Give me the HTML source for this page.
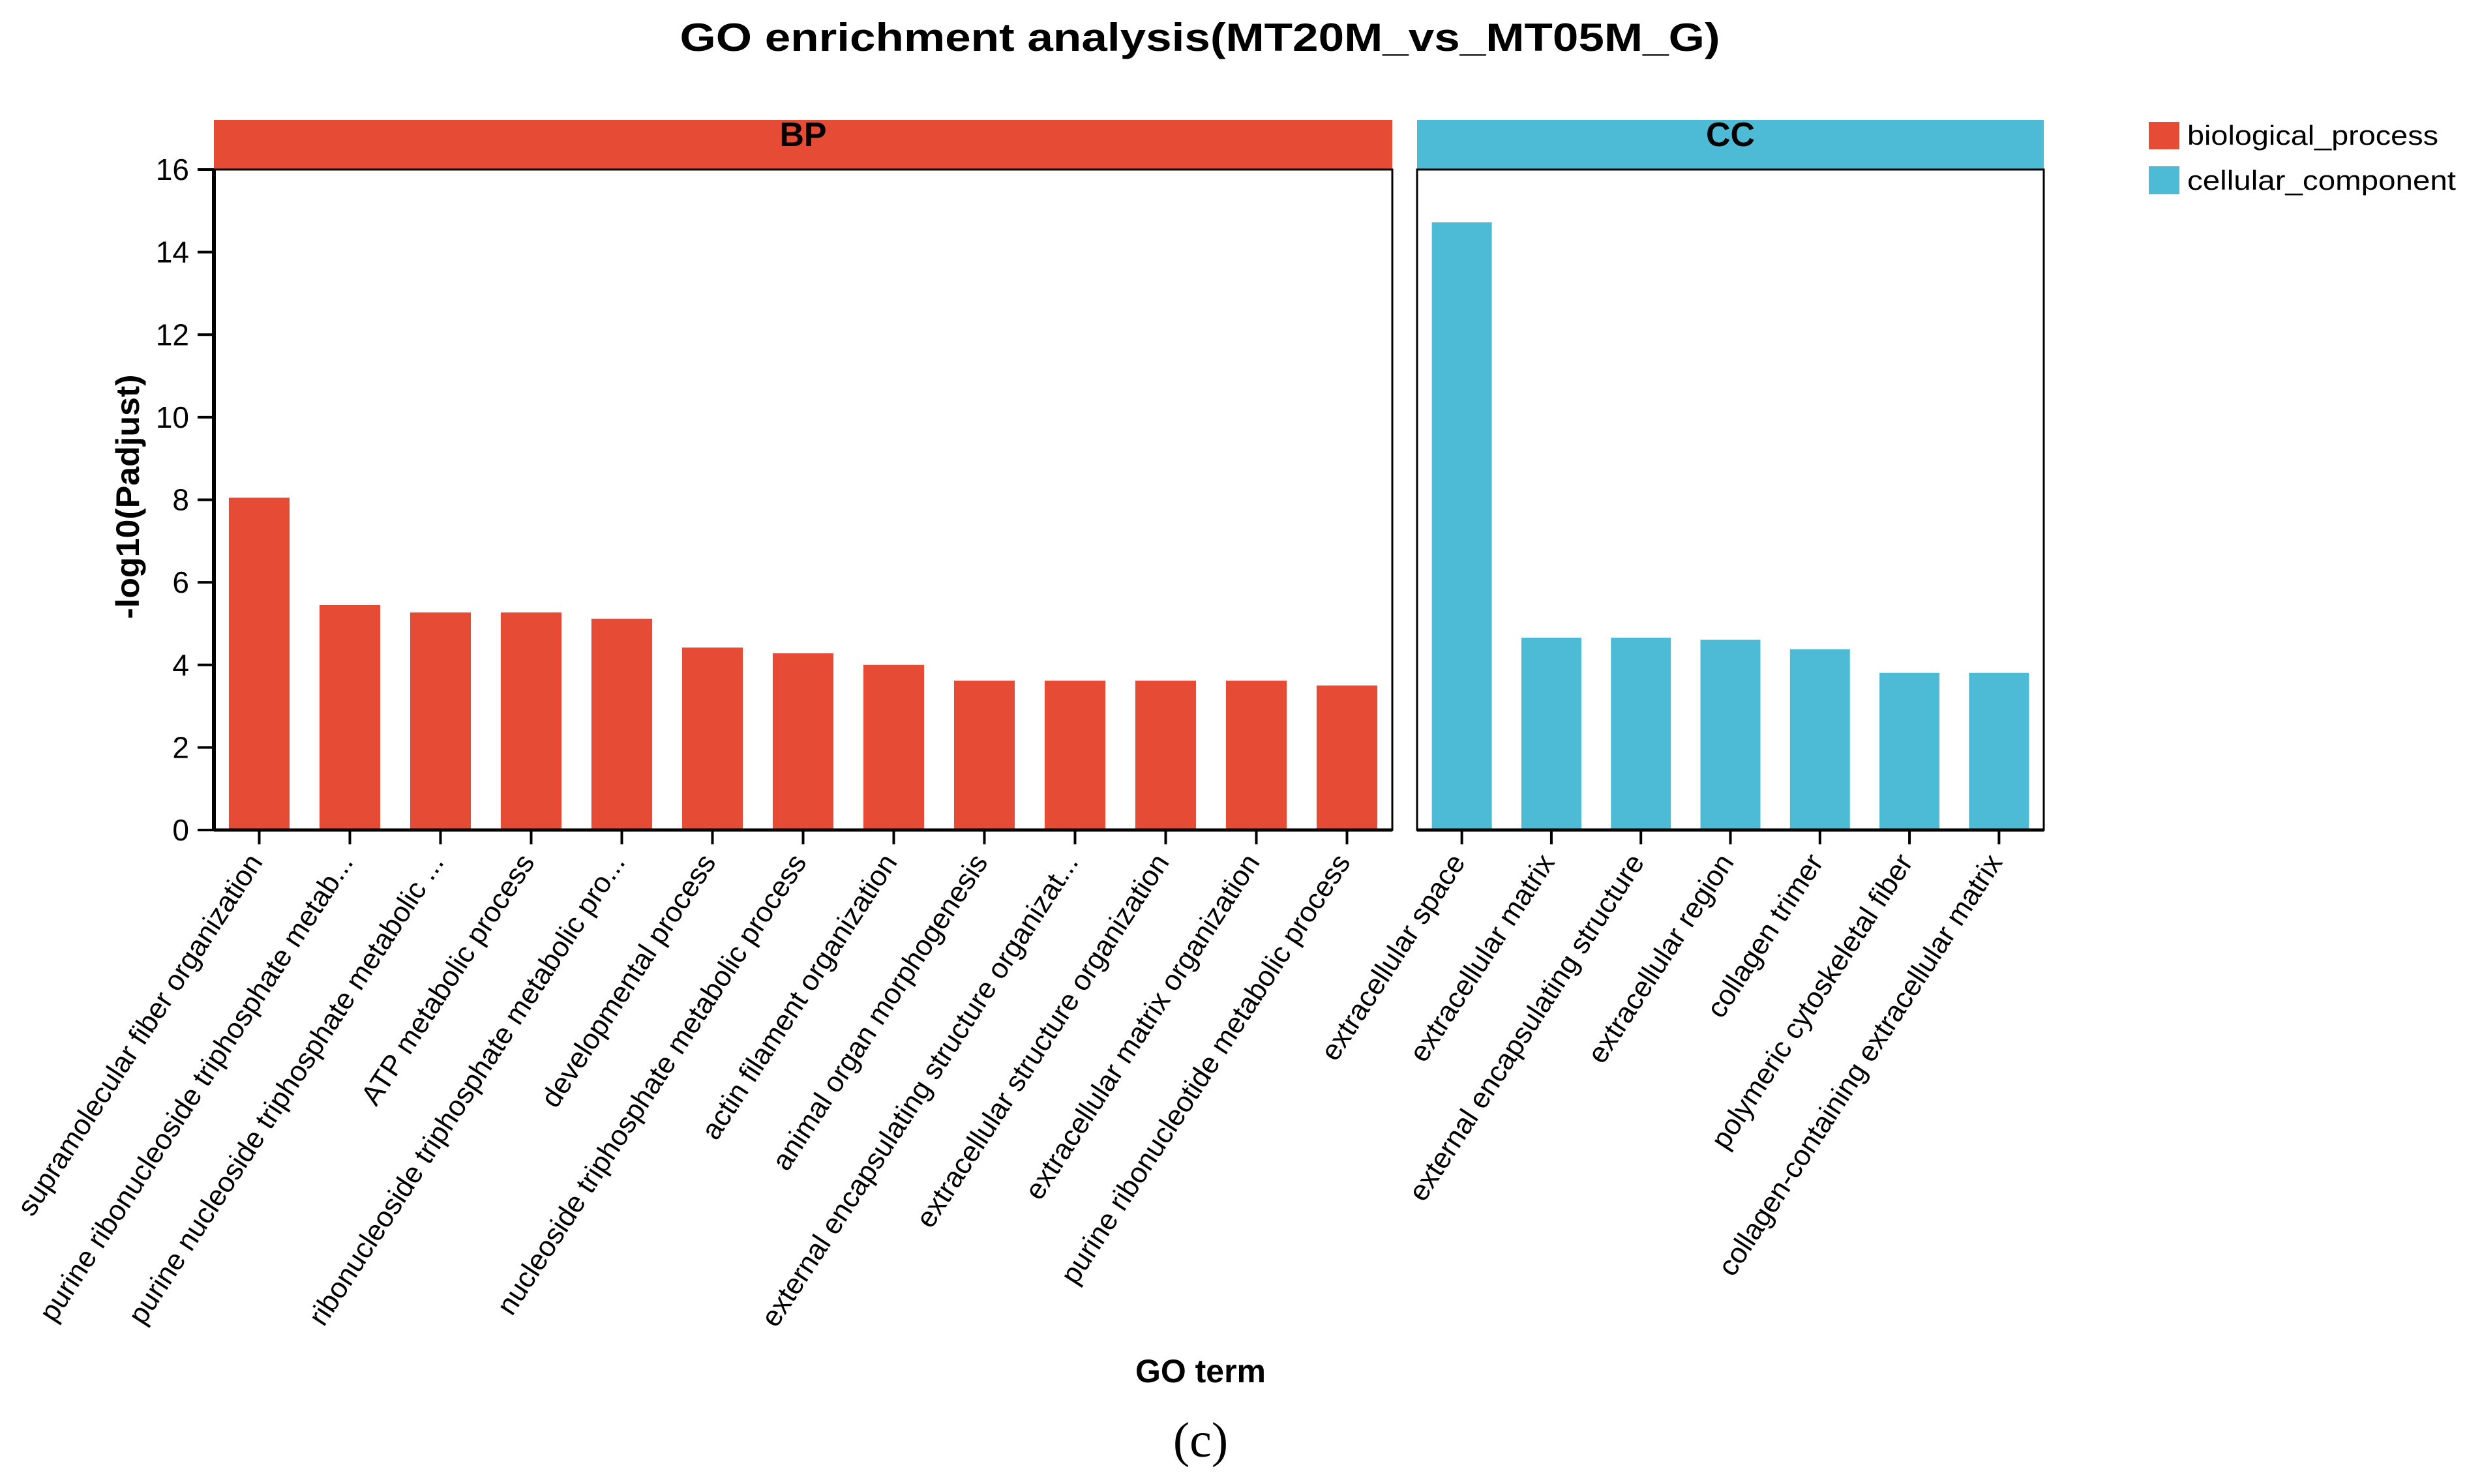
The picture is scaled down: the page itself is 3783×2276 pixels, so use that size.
<!DOCTYPE html>
<html><head><meta charset="utf-8"><style>
html,body{margin:0;padding:0;background:#fff;}
svg{display:block;}
text{font-family:"Liberation Sans",Arial,sans-serif;fill:#000;}
</style></head><body>
<svg id="chart" width="3783" height="2276" viewBox="0 0 3783 2276" xmlns="http://www.w3.org/2000/svg">
<text x="1840" y="78" text-anchor="middle" font-size="60" font-weight="bold" textLength="1595" lengthAdjust="spacingAndGlyphs">GO enrichment analysis(MT20M_vs_MT05M_G)</text>
<g id="plot"></g>
<text transform="translate(213,762) rotate(-90)" text-anchor="middle" font-size="50" font-weight="bold" textLength="375" lengthAdjust="spacingAndGlyphs">-log10(Padjust)</text>
<text x="1841" y="2120" text-anchor="middle" font-size="50" font-weight="bold">GO term</text>
<text x="1841" y="2234" text-anchor="middle" font-size="76" style="font-family:'Liberation Serif',serif">(c)</text>
<g>
<rect x="3295" y="187" width="47" height="42" fill="#E64B35"/>
<text x="3354" y="222" font-size="42" textLength="385" lengthAdjust="spacingAndGlyphs">biological_process</text>
<rect x="3295" y="255" width="47" height="43" fill="#4DBBD5"/>
<text x="3354" y="291" font-size="42" textLength="412" lengthAdjust="spacingAndGlyphs">cellular_component</text>
</g>
</svg>
<script>
const bpTerms = ["supramolecular fiber organization","purine ribonucleoside triphosphate metab...","purine nucleoside triphosphate metabolic ...","ATP metabolic process","ribonucleoside triphosphate metabolic pro...","developmental process","nucleoside triphosphate metabolic process","actin filament organization","animal organ morphogenesis","external encapsulating structure organizat...","extracellular structure organization","extracellular matrix organization","purine ribonucleotide metabolic process"];
const bpValues = [8.05,5.45,5.27,5.27,5.12,4.42,4.28,4.0,3.62,3.62,3.62,3.62,3.5];
const ccTerms = ["extracellular space","extracellular matrix","external encapsulating structure","extracellular region","collagen trimer","polymeric cytoskeletal fiber","collagen-containing extracellular matrix"];
const ccValues = [14.72,4.66,4.66,4.61,4.38,3.81,3.81];
const yTicks = [0,2,4,6,8,10,12,14,16];

const NS = "http://www.w3.org/2000/svg";
const g = document.getElementById("plot");
const Y0 = 1273, Y16 = 260, YMAX = 16;
function yScale(v){ return Y0 - (v / YMAX) * (Y0 - Y16); }
function mk(tag, attrs){ const e = document.createElementNS(NS, tag); for (const k in attrs) e.setAttribute(k, attrs[k]); g.appendChild(e); return e; }

for (const t of yTicks) {
  const tl = mk("line", {x1:303, x2:328, y1:yScale(t), y2:yScale(t), stroke:"#000", "stroke-width":4});
  
  
  const tx = mk("text", {x:290, y:yScale(t)+16, "text-anchor":"end", "font-size":46});
  tx.textContent = t;
  
  
}

function panel(x0, x1, terms, values, color, label, key){
  const strip = mk("rect", {x:x0, y:184, width:x1-x0, height:Y16-184, fill:color});
  
  
  const st = mk("text", {x:(x0+x1)/2, y:224, "text-anchor":"middle", "font-size":52, "font-weight":"bold"});
  st.textContent = label;
  
  
  const band = (x1 - x0) / terms.length;
  terms.forEach((term, i) => {
    const cx = x0 + band * (i + 0.5);
    const bw = band * 0.67;
    const b = mk("rect", {x:cx-bw/2, y:yScale(values[i]), width:bw, height:Y0-yScale(values[i]), fill:color});
    
    
    const tk = mk("line", {x1:cx, x2:cx, y1:Y0, y2:Y0+22, stroke:"#000", "stroke-width":4});
    
    
    const lt = mk("text", {transform:`translate(${cx-20},${Y0+32}) rotate(-57)`, "text-anchor":"end", dy:"0.72em", "font-size":44});
    lt.textContent = term;
    
    
  });
  const fr = mk("rect", {x:x0, y:Y16, width:x1-x0, height:Y0-Y16, fill:"none", stroke:"#000", "stroke-width":3});
  
  
  const ax = mk("line", {x1:x0, x2:x1, y1:Y0, y2:Y0, stroke:"#000", "stroke-width":5});
  
  
}
panel(328, 2135, bpTerms, bpValues, "#E64B35", "BP", "bp");
panel(2173, 3134, ccTerms, ccValues, "#4DBBD5", "CC", "cc");
const yl = mk("line", {x1:328, x2:328, y1:Y16, y2:Y0, stroke:"#000", "stroke-width":6});


</script>
</body></html>
